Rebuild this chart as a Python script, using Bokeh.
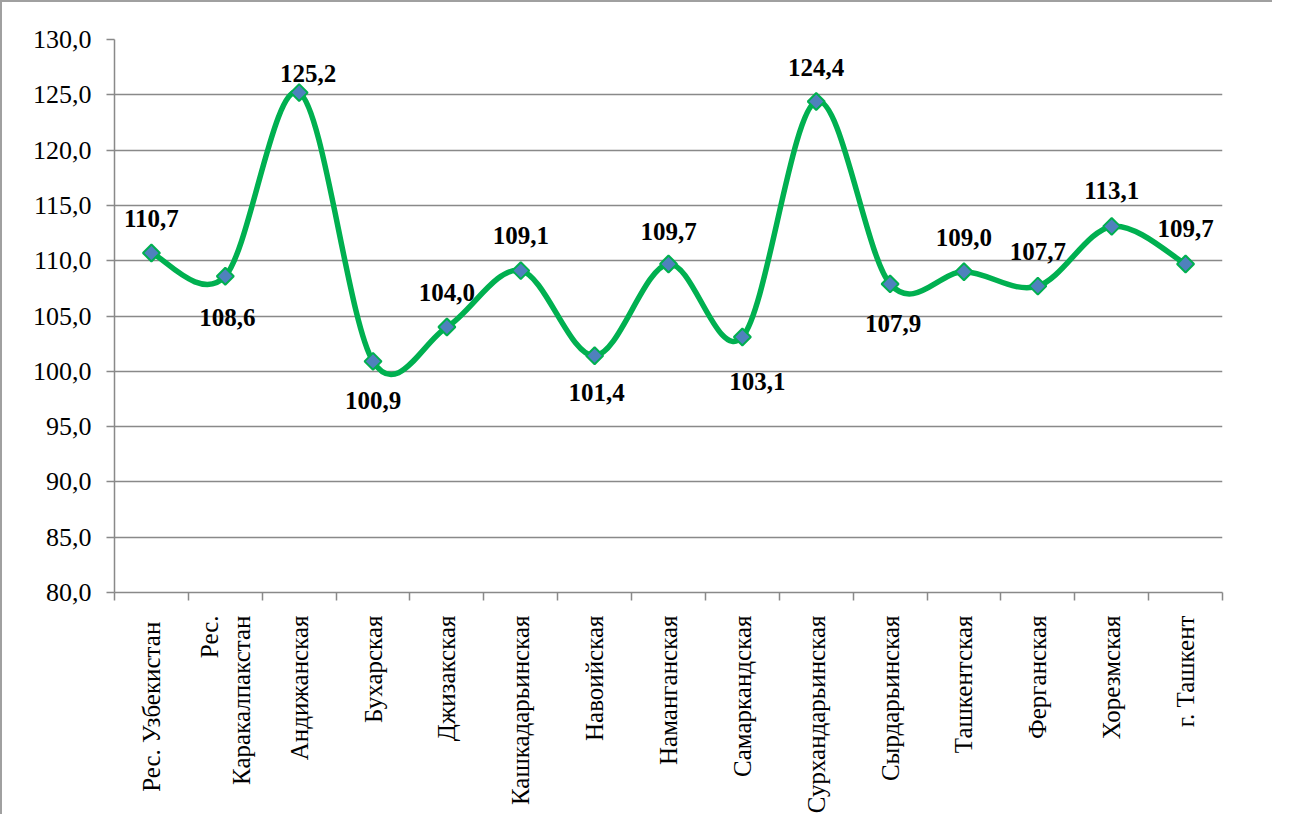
import math
from bokeh.plotting import figure
from bokeh.models import FixedTicker, ColumnDataSource
from bokeh.core.properties import value
from bokeh.embed import file_html
from bokeh.resources import INLINE

# ---- data ----
categories = ["Рес.  Узбекистан", "Рес.\nКаракалпакстан", "Андижанская", "Бухарская",
              "Джизакская", "Кашкадарьинская", "Навоийская", "Наманганская",
              "Самаркандская", "Сурхандарьинская", "Сырдарьинская", "Ташкентская",
              "Ферганская", "Хорезмская", "г. Ташкент"]
values = [110.7, 108.6, 125.2, 100.9, 104.0, 109.1, 101.4, 109.7,
          103.1, 124.4, 107.9, 109.0, 107.7, 113.1, 109.7]
value_labels = ["110,7", "108,6", "125,2", "100,9", "104,0", "109,1", "101,4", "109,7",
                "103,1", "124,4", "107,9", "109,0", "107,7", "113,1", "109,7"]
y_ticks = [80, 85, 90, 95, 100, 105, 110, 115, 120, 125, 130]
y_tick_labels = ["80,0", "85,0", "90,0", "95,0", "100,0", "105,0", "110,0",
                 "115,0", "120,0", "125,0", "130,0"]

# label placement (screen px offsets from each point), style only
label_dx = [0, 2, 9, 0, 0, 0, 2, 0, 15, 0, 3, 0, 0, 0, 0]
label_dy = [-34, 41, -19, 39, -35, -35, 37, -33, 44, -34, 40, -34, -35, -36, -36]

n = len(categories)
xs = [i + 0.5 for i in range(n)]

FONT = "Liberation Serif, DejaVu Serif, serif"
GREEN = "#00B050"
GRID = "#898989"

p = figure(width=1272, height=814,
           x_range=(0, n), y_range=(80, 130),
           output_backend="svg", toolbar_location=None,
           min_border_left=112, min_border_right=52,
           min_border_top=37, min_border_bottom=219)
p.styles = {"border-left": "2px solid #a0a0a0", "border-top": "2px solid #a0a0a0"}
p.outline_line_color = None
p.background_fill_color = "white"
p.border_fill_color = "white"

# y axis
p.yaxis.ticker = FixedTicker(ticks=y_ticks, minor_ticks=[])
p.yaxis.major_label_overrides = {t: l for t, l in zip(y_ticks, y_tick_labels)}
p.yaxis.axis_line_color = GRID
p.yaxis.axis_line_width = 1.5
p.yaxis.major_tick_line_color = GRID
p.yaxis.major_tick_line_width = 1.5
p.yaxis.major_tick_out = 8
p.yaxis.major_tick_in = 0
p.yaxis.minor_tick_line_color = None
p.yaxis.major_label_text_font = FONT
p.yaxis.major_label_text_font_size = "26px"
p.yaxis.major_label_text_color = "black"
p.yaxis.major_label_standoff = 15

# x axis
p.xaxis.ticker = FixedTicker(ticks=xs, minor_ticks=list(range(n + 1)))
p.xaxis.major_label_overrides = {x: c for x, c in zip(xs, categories)}
p.xaxis.major_label_orientation = math.pi / 2
p.xaxis.axis_line_color = GRID
p.xaxis.axis_line_width = 1.5
p.xaxis.major_tick_line_color = None
p.xaxis.major_tick_out = 0
p.xaxis.major_tick_in = 0
p.xaxis.minor_tick_line_color = GRID
p.xaxis.minor_tick_line_width = 1.5
p.xaxis.minor_tick_out = 8
p.xaxis.minor_tick_in = 0
p.xaxis.major_label_text_font = FONT
p.xaxis.major_label_text_font_size = "25px"
p.xaxis.major_label_text_color = "black"
p.xaxis.major_label_standoff = 15

p.xgrid.grid_line_color = None
p.ygrid.ticker = FixedTicker(ticks=y_ticks)
p.ygrid.grid_line_color = GRID
p.ygrid.grid_line_width = 1.5

# smoothed line (Catmull-Rom style bezier segments, as Excel smoothing)
px = [xs[0]] + xs + [xs[-1]]
py = [values[0]] + values + [values[-1]]
x0, y0, x1, y1, cx0, cy0, cx1, cy1 = [], [], [], [], [], [], [], []
for i in range(1, n):
    a, b, c, d = i - 1, i, i + 1, i + 2
    x0.append(px[b]); y0.append(py[b])
    x1.append(px[c]); y1.append(py[c])
    cx0.append(px[b] + (px[c] - px[a]) / 6.0)
    cy0.append(py[b] + (py[c] - py[a]) / 6.0)
    cx1.append(px[c] - (px[d] - px[b]) / 6.0)
    cy1.append(py[c] - (py[d] - py[b]) / 6.0)
bsrc = ColumnDataSource(dict(x0=x0, y0=y0, x1=x1, y1=y1, cx0=cx0, cy0=cy0, cx1=cx1, cy1=cy1))
p.bezier(x0="x0", y0="y0", x1="x1", y1="y1", cx0="cx0", cy0="cy0", cx1="cx1", cy1="cy1",
         source=bsrc, line_color=GREEN, line_width=5.5, line_cap="round")

src = ColumnDataSource(dict(x=xs, y=values, lab=value_labels, dx=label_dx, dy=label_dy))
p.scatter(x="x", y="y", source=src, marker="square", angle=math.pi / 4, size=12,
          fill_color="#4F81BD", line_color=GREEN, line_width=2)

p.text(x="x", y="y", text="lab", source=src, x_offset="dx", y_offset="dy",
       text_font=value(FONT), text_font_size="25px", text_font_style="bold",
       text_align="center", text_baseline="middle", text_color="black")

open("out.html", "w").write(file_html(p, INLINE))
